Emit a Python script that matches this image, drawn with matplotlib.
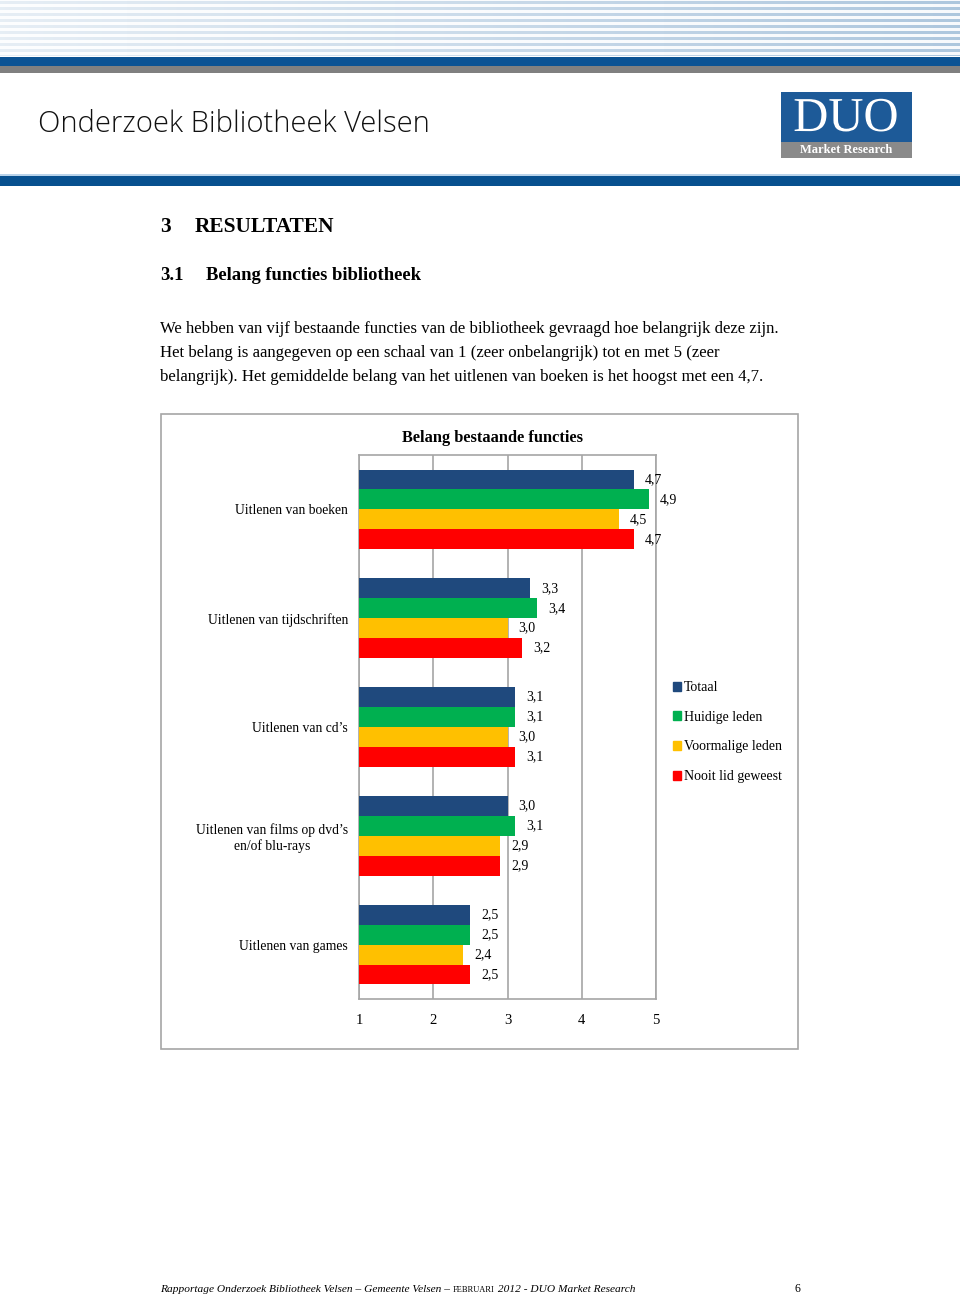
import numpy as np
import matplotlib
matplotlib.use('Agg')
import matplotlib.pyplot as plt
import matplotlib.patheffects as pe
from matplotlib.patches import Rectangle, Patch

# data
categories = ['Uitlenen van boeken', 'Uitlenen van tijdschriften', 'Uitlenen van cd\u2019s',
              'Uitlenen van films op dvd\u2019s\nen/of blu-rays', 'Uitlenen van games']
series = ['Totaal', 'Huidige leden', 'Voormalige leden', 'Nooit lid geweest']
totaal = [4.7, 3.3, 3.1, 3.0, 2.5]
huidige = [4.9, 3.4, 3.1, 3.1, 2.5]
voormalige = [4.5, 3.0, 3.0, 2.9, 2.4]
nooit = [4.7, 3.2, 3.1, 2.9, 2.5]
ticks = [1, 2, 3, 4, 5]
colors = ['#1f497d', '#00b050', '#ffc000', '#ff0000']

serif = 'Liberation Serif'
W, H = 960, 1298

fig = plt.figure(figsize=(W / 100, H / 100), dpi=100)

# background axes in pixel coordinates
bg = fig.add_axes([0, 0, 1, 1])
bg.set_xlim(0, W)
bg.set_ylim(H, 0)
bg.axis('off')

# striped header, fading to the left
img = np.ones((56, W, 3))
fade = np.linspace(0.3, 1.0, W)
stripe = np.array([0.68, 0.78, 0.87])
gap = np.array([0.97, 0.98, 0.99])
for row in range(56):
    c = stripe if (row % 6) in (1, 2, 3) else gap
    img[row] = 1 - (1 - c)[None, :] * fade[:, None]
bg.imshow(img, extent=[0, W, 56, 0], aspect='auto', zorder=0)
bg.add_patch(Rectangle((0, 57), W, 9, color='#0b5394', lw=0))
bg.add_patch(Rectangle((0, 66), W, 7, color='#808080', lw=0))
bg.add_patch(Rectangle((0, 174), W, 2, color='#b9d3ea', lw=0))
bg.add_patch(Rectangle((0, 176), W, 10, color='#07508f', lw=0))

bg.text(38, 124, 'Onderzoek Bibliotheek Velsen', fontsize=21, family='Open Sans',
        fontweight='light', color='#111111', va='center', ha='left')

# logo
bg.add_patch(Rectangle((781, 92), 131, 50, color='#1d5a98', lw=0))
bg.add_patch(Rectangle((781, 142), 131, 16, color='#8a8a8a', lw=0))
duo = bg.text(846, 119, 'DUO', fontsize=35, family=serif, color='white', ha='center',
              va='center')
duo.set_path_effects([pe.Stroke(linewidth=0.8, foreground='#1d5a98'), pe.Normal()])
bg.text(846, 150, 'Market Research', fontsize=9, family=serif, fontweight='bold',
        color='white', ha='center', va='center')

# headings and body
bg.text(160, 227, '3', fontsize=15.4, family=serif, fontweight='bold', va='center')
bg.text(195, 227, 'RESULTATEN', fontsize=15.4, family=serif, fontweight='bold', va='center')
bg.text(160, 275, '3.1', fontsize=13.4, family=serif, fontweight='bold', va='center')
bg.text(206, 275, 'Belang functies bibliotheek', fontsize=13.4, family=serif,
        fontweight='bold', va='center')
body = ['We hebben van vijf bestaande functies van de bibliotheek gevraagd hoe belangrijk deze zijn.',
        'Het belang is aangegeven op een schaal van 1 (zeer onbelangrijk) tot en met 5 (zeer',
        'belangrijk). Het gemiddelde belang van het uitlenen van boeken is het hoogst met een 4,7.']
for i, line in enumerate(body):
    bg.text(160, 329 + i * 24, line, fontsize=12.1, family=serif, va='center')

# chart frame
bg.add_patch(Rectangle((161, 414), 637, 635, fill=False, ec='#a6a6a6', lw=1.2))
bg.text(492, 438, 'Belang bestaande functies', fontsize=11.8, family=serif,
        fontweight='bold', ha='center', va='center')

ax = fig.add_axes([359 / W, 1 - 999 / H, (656 - 359) / W, (999 - 455) / H])
h = 0.183
y = np.arange(len(categories))
for k, (vals, name) in enumerate(zip([totaal, huidige, voormalige, nooit], series)):
    bars = ax.barh(y + (k - 1.5) * h, vals, height=h, color=colors[k], label=name, zorder=3)
    ax.bar_label(bars, labels=[f'{v:.1f}'.replace('.', ',') for v in vals], padding=8,
                 fontsize=10, family=serif)
ax.set_xlim(1, 5)
ax.set_ylim(len(categories) - 0.5, -0.5)
ax.set_xticks(ticks)
ax.set_yticks(y)
ax.set_yticklabels(categories, family=serif, fontsize=9.8, multialignment='center')
ax.set_xticklabels([str(t) for t in ticks], family=serif, fontsize=10.5)
ax.tick_params(length=0)
ax.tick_params(axis='x', pad=11)
ax.tick_params(axis='y', pad=8)
ax.grid(axis='x', color='#a6a6a6', lw=1.2, zorder=0)
for s in ax.spines.values():
    s.set_color('#a6a6a6')
    s.set_linewidth(1.2)

handles = [Patch(color=c, label=s) for c, s in zip(colors, series)]
ax.legend(handles=handles, loc='upper left', bbox_to_anchor=(673, 681),
          bbox_transform=bg.transData, frameon=False, borderpad=0, borderaxespad=0,
          handlelength=0.6, handleheight=0.6, handletextpad=0.2, labelspacing=1.2,
          prop={'family': serif, 'size': 10})

# footer
t1 = bg.text(160, 1289, 'Rapportage Onderzoek Bibliotheek Velsen \u2013 Gemeente Velsen \u2013 ',
             fontsize=8.2, family=serif, style='italic', va='center')
t2 = bg.annotate('FEBRUARI', xy=(1, 0), xycoords=t1, fontsize=6, family=serif,
                 va='bottom', ha='left')
bg.annotate(' 2012 - DUO Market Research', xy=(1, 0), xycoords=t2, fontsize=8.2,
            family=serif, style='italic', va='bottom', ha='left')
bg.text(797, 1289, '6', fontsize=8.5, family=serif, va='center', ha='center')

fig.savefig('out.png', dpi=100)
